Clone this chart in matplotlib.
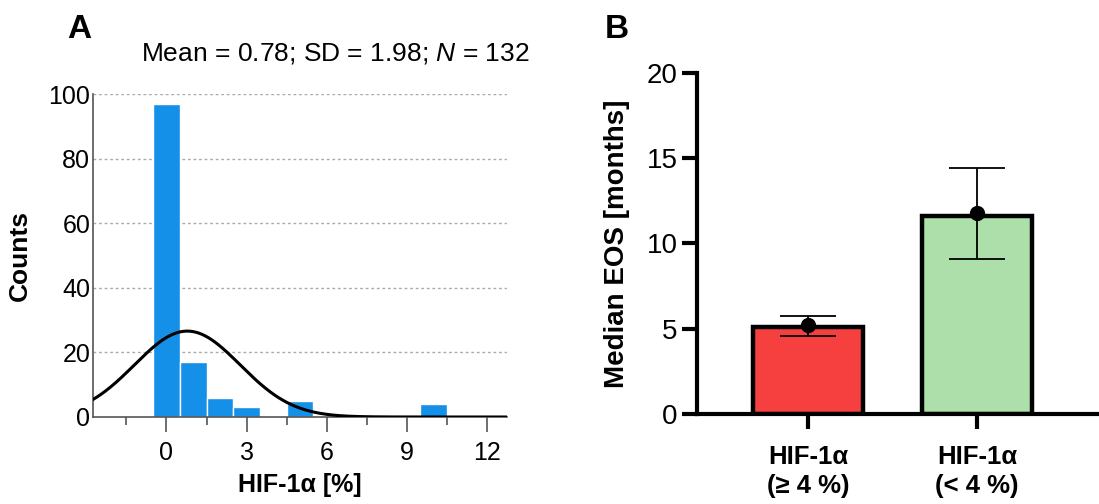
import numpy as np
import matplotlib
matplotlib.use("Agg")
import matplotlib.pyplot as plt

plt.rcParams['font.family'] = ['Liberation Sans', 'DejaVu Sans']
plt.rcParams['mathtext.fontset'] = 'custom'
plt.rcParams['mathtext.rm'] = 'Liberation Sans'
plt.rcParams['mathtext.it'] = 'Liberation Sans:italic'

# ---- Panel A data ----
bin_centers = [0, 1, 2, 3, 5, 10]
bin_counts = [97, 17, 6, 3, 5, 4]
bin_width = 1.0
fit_mean = 0.78
fit_sd = 1.98
fit_n = 132
a_xticks = [0, 3, 6, 9, 12]
a_yticks = [0, 20, 40, 60, 80, 100]

# ---- Panel B data ----
groups = ["HIF-1α\n(≥ 4 %)", "HIF-1α\n(< 4 %)"]
median_eos = [5.1, 11.6]
dot_values = [5.2, 11.8]
ci_low = [4.6, 9.1]
ci_high = [5.75, 14.4]
bar_colors = ["#F64040", "#ACDFAA"]
b_yticks = [0, 5, 10, 15, 20]

W, H = 1099, 504
fig = plt.figure(figsize=(W / 100, H / 100), dpi=100)

# ---------------- Panel A ----------------
axA = fig.add_axes([93 / W, (H - 417) / H, 414 / W, 323 / H])
axA.bar(bin_centers, bin_counts, width=bin_width, color="#1590E8",
        edgecolor="white", linewidth=1.0, zorder=2)
xs = np.linspace(-2.75, 12.75, 400)
ys = fit_n * bin_width / (fit_sd * np.sqrt(2 * np.pi)) * np.exp(-0.5 * ((xs - fit_mean) / fit_sd) ** 2)
axA.plot(xs, ys, color="black", lw=2.2, zorder=3)
axA.set_xlim(-2.75, 12.75)
axA.set_ylim(0, 100)
axA.set_xticks(a_xticks)
axA.set_xticks([-1.5, 1.5, 4.5, 7.5, 10.5], minor=True)
axA.set_yticks(a_yticks)
for v in a_yticks[1:]:
    axA.axhline(v, color="#AAAAAA", lw=1.0, ls=(0, (2, 2)), zorder=1)
for s in ["top", "right"]:
    axA.spines[s].set_visible(False)
for s in ["left", "bottom"]:
    axA.spines[s].set_color("#555555")
    axA.spines[s].set_linewidth(1.2)
axA.tick_params(axis="x", which="major", length=11, width=1.2, color="#555555",
                labelsize=18, pad=6)
axA.tick_params(axis="x", which="minor", length=6, width=1.2, color="#555555")
axA.tick_params(axis="y", length=0, labelsize=18, pad=2)
axA.set_xlabel("HIF-1α [%]", fontsize=18, fontweight="bold", labelpad=6)
axA.set_ylabel("Counts", fontsize=19, fontweight="bold", labelpad=12)
fig.text(335 / W, 1 - 53 / H, r"Mean = 0.78; SD = 1.98; $\mathit{N}$ = 132",
         ha="center", va="center", fontsize=19)
fig.text(79 / W, 1 - 30 / H, "A", ha="center", va="center", fontsize=24, fontweight="bold")

# ---------------- Panel B ----------------
axB = fig.add_axes([697 / W, (H - 414) / H, 402 / W, 341 / H])
xpos = np.arange(len(groups))
axB.bar(xpos, median_eos, width=0.65, color=bar_colors, edgecolor="black",
        linewidth=3.2, zorder=2)
yerr = [np.array(dot_values) - np.array(ci_low), np.array(ci_high) - np.array(dot_values)]
axB.errorbar(xpos, dot_values, yerr=yerr, fmt="o", color="black", ms=10,
             elinewidth=1.3, capsize=20, capthick=1.3, zorder=3)
axB.set_xlim(-0.657, 1.722)
axB.set_ylim(0, 20)
axB.set_yticks(b_yticks)
axB.set_xticks(xpos)
axB.set_xticklabels(groups, fontsize=18.5, fontweight="bold", linespacing=1.3)
for s in ["top", "right"]:
    axB.spines[s].set_visible(False)
for s in ["left", "bottom"]:
    axB.spines[s].set_linewidth(3)
axB.tick_params(axis="y", length=11, width=3, labelsize=20, pad=3)
axB.tick_params(axis="x", length=11, width=3, pad=11)
axB.set_ylabel("Median EOS [months]", fontsize=20, fontweight="bold", labelpad=12)
fig.text(617 / W, 1 - 30 / H, "B", ha="center", va="center", fontsize=24, fontweight="bold")

fig.savefig("out.png", dpi=100)
